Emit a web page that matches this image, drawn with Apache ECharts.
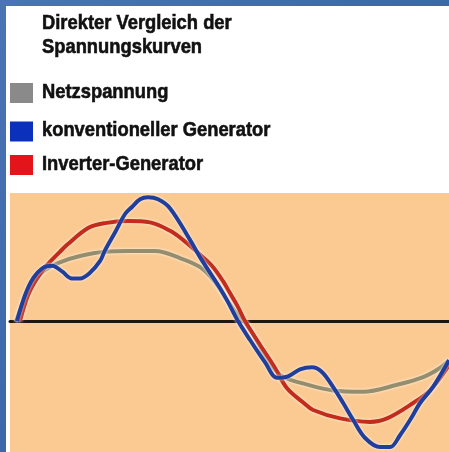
<!DOCTYPE html>
<html>
<head>
<meta charset="utf-8">
<script src="https://cdn.jsdelivr.net/npm/echarts@6/dist/echarts.min.js"></script>
<style>
  html, body { margin: 0; padding: 0; }
  #container { width: 449px; height: 452px; }
</style>
</head>
<body>
<div id="container"></div>
<script>
// Zeit in ms, Spannung in % des Netzspannungs-Scheitelwerts
var netzT = [0, 0.35, 0.74, 1.26, 1.90, 2.77, 3.85, 4.85, 6.02, 7.10, 7.97, 8.61, 9.05, 9.48, 9.87,
             10.35, 10.78, 11.21, 11.65, 12.42, 13.72, 15.02, 16.49, 17.62, 18.35, 18.74];
var netzV = [0, 30, 54, 73, 84, 93, 99, 100, 100, 90, 77, 56, 34, 14, 0,
             -24, -50, -70, -81, -89, -99, -101, -91, -80, -67, -56];

var konvT = [0.04, 0.39, 0.74, 1.17, 1.56, 1.99, 2.42, 2.77, 3.20, 3.64, 3.85, 4.29, 4.72, 5.02, 5.37,
             5.71, 6.15, 6.67, 7.53, 7.97, 8.40, 8.83, 9.13, 9.61, 10.13, 10.78, 11.30, 11.77, 12.29,
             12.81, 13.25, 13.72, 14.16, 14.59, 15.11, 15.76, 16.19, 16.62, 17.06, 17.49, 18.05, 18.74];
var konvV = [0, 37, 61, 76, 79, 71, 61, 61, 69, 86, 101, 127, 153, 163, 174,
             177, 174, 161, 116, 91, 69, 47, 30, 0, -27, -59, -81, -79, -69,
             -66, -73, -94, -117, -141, -167, -180, -180, -163, -141, -117, -94, -56];

var invT = [0.17, 0.52, 0.91, 1.34, 1.90, 2.21, 3.12, 3.85, 4.85, 5.80, 6.67, 7.23, 8.10, 8.53, 8.96,
            9.26, 9.61, 9.91, 10.56, 11.21, 11.73, 12.42, 12.86, 14.03, 15.32, 16.06, 17.19, 17.92, 18.74];
var invV = [0, 37, 61, 80, 99, 109, 133, 140, 143, 141, 129, 116, 91, 77, 57,
            40, 20, 0, -34, -67, -96, -116, -127, -139, -144, -139, -117, -99, -63];

var names = ['Netzspannung', 'konventioneller Generator', 'Inverter-Generator'];
var legendColors = ['#8a8a8a', '#0a30bc', '#e3141a'];
var lineColors = ['#958e6e', '#203f9c', '#c22c1c'];
var titleLines = ['Direkter Vergleich der', 'Spannungskurven'];

function pairs(t, v) {
    var out = [];
    for (var i = 0; i < t.length; i++) out.push([t[i], v[i]]);
    return out;
}

var schrift = 'bold 20.5px "Liberation Sans", Arial, sans-serif';

function kurve(name, data, color) {
    return {
        name: name,
        type: 'line',
        data: data,
        smooth: 0.35,
        showSymbol: false,
        silent: true,
        lineStyle: {
            color: color,
            width: 4,
            shadowColor: 'rgba(255,255,255,0.85)',
            shadowBlur: 3
        },
        itemStyle: { color: color }
    };
}

// schmale, fette Schrift nachbilden: Text horizontal gestaucht und leicht nachgezogen
function textEl(txt, x, y) {
    return {
        type: 'text',
        x: x, y: y,
        scaleX: 0.895,
        silent: true,
        style: {
            text: txt, font: schrift, fill: '#111111',
            stroke: '#111111', lineWidth: 0.6,
            verticalAlign: 'middle'
        }
    };
}

var graphics = [{
    type: 'rect',
    shape: { x: 6, y: 6, width: 443, height: 446 },
    style: { fill: '#ffffff' },
    z: -10
}];
graphics.push(textEl(titleLines[0], 42, 23.5));
graphics.push(textEl(titleLines[1], 42, 47));

var legendY = [93, 131.5, 165];
for (var i = 0; i < names.length; i++) {
    graphics.push({
        type: 'rect',
        shape: { x: 10, y: legendY[i] - 10, width: 23, height: 20 },
        style: { fill: legendColors[i] }
    });
    graphics.push(textEl(names[i], 42, legendY[i] - 1));
}

var myChart = echarts.init(document.getElementById('container'));
var option = {
    animation: false,
    backgroundColor: {
        type: 'linear', x: 0, y: 0, x2: 1, y2: 1,
        colorStops: [{ offset: 0, color: '#4a74b4' }, { offset: 1, color: '#2f5a9e' }]
    },
    graphic: graphics,
    grid: {
        left: 10, right: 0, top: 193, bottom: 0,
        show: true,
        backgroundColor: '#fbca93',
        borderWidth: 0
    },
    xAxis: {
        type: 'value',
        min: -0.26, max: 18.74,
        axisLine: { show: true, onZero: true, lineStyle: { color: '#1c1810', width: 3 } },
        axisTick: { show: false },
        axisLabel: { show: false },
        splitLine: { show: false }
    },
    yAxis: {
        type: 'value',
        min: -187, max: 183,
        axisLine: { show: false },
        axisTick: { show: false },
        axisLabel: { show: false },
        splitLine: { show: false }
    },
    series: [
        kurve(names[0], pairs(netzT, netzV), lineColors[0]),
        kurve(names[2], pairs(invT, invV), lineColors[2]),
        kurve(names[1], pairs(konvT, konvV), lineColors[1])
    ]
};
myChart.setOption(option);
</script>
</body>
</html>
